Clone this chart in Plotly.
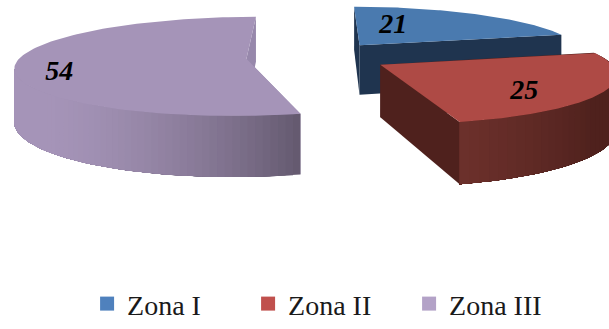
import math
import plotly.graph_objects as go

# Share of each zone
zones = ["Zona I", "Zona II", "Zona III"]
shares = [21, 25, 54]

legend_colors = ["#4f81bd", "#c0504d", "#b3a2c7"]
top_colors = ["#4a7aaf", "#ae4a45", "#a594b8"]
radial_colors = ["#1f344f", "#4f211d", "#9788ab"]
# Outer wall shading: the dark and light ends of each slice's ramp
wall_dark = ["#1f344f", "#4f211d", "#655a70"]
wall_light = ["#1f344f", "#6d312c", "#a594b8"]

# Value labels: direction (degrees) and distance inside each slice
label_angle = [19, 128, 254]
label_radius = [0.56, 0.71, 0.815]

# Perspective camera for the exploded pie
CENTER_X, CENTER_Y = 317.5, 57.5
HORIZON_Y = -257
RADIUS_PX = 226
DISTANCE = 6.5
EXPLODE = 0.315
THICKNESS = 52


def project(u, v, drop=0.0):
    s = DISTANCE / (DISTANCE + v)
    x = CENTER_X + RADIUS_PX * u * s
    y = HORIZON_Y + (CENTER_Y - HORIZON_Y) * s + drop * s
    return x, y


def hex_mix(a, b, t):
    t = max(0.0, min(1.0, t))
    ca = [int(a[i:i + 2], 16) for i in (1, 3, 5)]
    cb = [int(b[i:i + 2], 16) for i in (1, 3, 5)]
    return "#" + "".join(f"{round(p + (q - p) * t):02x}" for p, q in zip(ca, cb))


fig = go.Figure()


def polygon(points, color):
    xs = [p[0] for p in points] + [points[0][0]]
    ys = [p[1] for p in points] + [points[0][1]]
    fig.add_trace(go.Scatter(
        x=xs, y=ys, mode="lines", fill="toself", fillcolor=color,
        line=dict(color=color, width=0), hoverinfo="skip", showlegend=False,
    ))


total = sum(shares)
start = 0.0
slices = []
for share in shares:
    sweep = share / total * 360
    slices.append((start, start + sweep))
    start += sweep


def wedge_point(apex, deg, r=1.0):
    a = math.radians(deg)
    return apex[0] + r * math.sin(a), apex[1] + r * math.cos(a)


def apex_of(a0, a1):
    mid = math.radians((a0 + a1) / 2)
    return EXPLODE * math.sin(mid), EXPLODE * math.cos(mid)


def rim_band(apex, d0, d1):
    steps = max(1, int((d1 - d0) / 2))
    arc = [wedge_point(apex, d0 + (d1 - d0) * k / steps) for k in range(steps + 1)]
    return [project(*p) for p in arc] + [project(*p, THICKNESS) for p in reversed(arc)]


# Draw back to front: large slice, blue slice, then the red one on top
label_traces = []
for idx in (2, 0, 1):
    a0, a1 = slices[idx]
    apex = apex_of(a0, a1)

    # radial cut faces
    for deg in (a0, a1):
        out = wedge_point(apex, deg)
        polygon([project(*apex), project(*out),
                 project(*out, THICKNESS), project(*apex, THICKNESS)],
                radial_colors[idx])

    # outer rim: overlapping bands, each repainting the rest of the arc,
    # so the shading varies along the arc without seams
    if idx == 1:
        n = 40
        for k in range(n):
            d0 = a0 + (a1 - a0) * k / n
            t = 1 - (a1 - d0) / 40
            polygon(rim_band(apex, d0, a1), hex_mix(wall_dark[idx], wall_light[idx], t))
    elif idx == 2:
        n = 40
        # the rim is only visible up to its leftmost point; going past it
        # would fold the ribbon back over itself
        end = min((a0 + k * 0.5 for k in range(int((a1 - a0) * 2))),
                  key=lambda d: project(*wedge_point(apex, d))[0])
        for k in range(n):
            off = 65 * k / n
            t = 1 - (1 - off / 65) ** 2
            polygon(rim_band(apex, a0 + off, end), hex_mix(wall_dark[idx], wall_light[idx], t))

    # top face
    arc = [wedge_point(apex, a0 + (a1 - a0) * k / 120) for k in range(121)]
    polygon([project(*apex)] + [project(*p) for p in arc], top_colors[idx])

    lx, ly = project(*wedge_point(apex, label_angle[idx], label_radius[idx]), 3)
    label_traces.append(go.Scatter(
        x=[lx], y=[ly], mode="text", text=[str(shares[idx])],
        textposition="middle center", hoverinfo="skip", showlegend=False,
        textfont=dict(family="Liberation Serif", size=28, color="#000000",
                      weight="bold", style="italic"),
    ))

for tr in label_traces:
    fig.add_trace(tr)

for name, color in zip(zones, legend_colors):
    fig.add_trace(go.Scatter(
        x=[None], y=[None], mode="markers", name=name,
        marker=dict(symbol="square", size=14, color=color),
    ))

fig.update_layout(
    width=609, height=329,
    margin=dict(l=0, r=0, t=0, b=0),
    paper_bgcolor="#ffffff", plot_bgcolor="#ffffff",
    xaxis=dict(range=[0, 609], visible=False, fixedrange=True),
    yaxis=dict(range=[329, 0], visible=False, fixedrange=True),
    font=dict(family="Liberation Serif", size=28, color="#1a1a1a"),
    legend=dict(
        orientation="h", x=0.143, y=-0.012, xanchor="left", yanchor="bottom",
        entrywidth=116, entrywidthmode="pixels", itemwidth=30,
        bgcolor="rgba(0,0,0,0)", font=dict(size=28),
    ),
)

fig.write_html("out.html", config={"displayModeBar": False})
